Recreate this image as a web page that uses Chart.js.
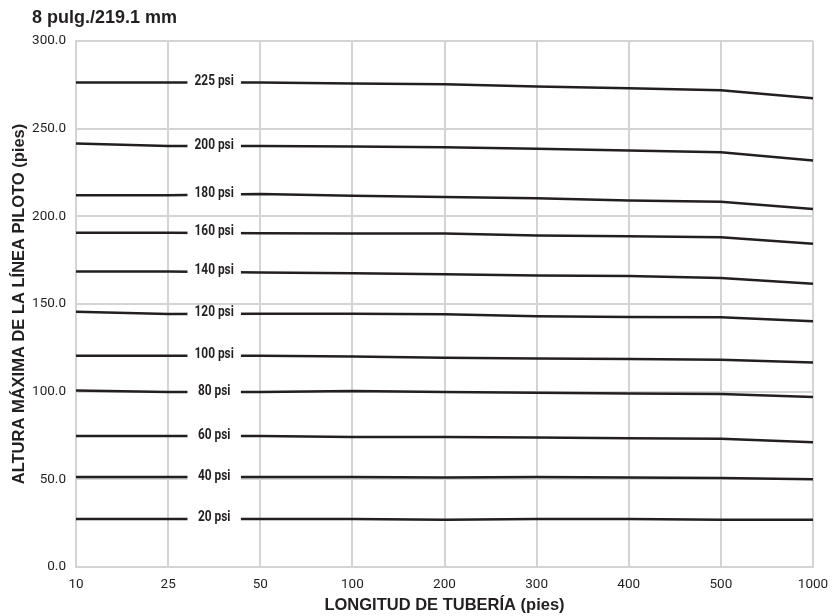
<!DOCTYPE html>
<html lang="es">
<head>
<meta charset="UTF-8">
<title>8 pulg./219.1 mm</title>
<script src="https://cdn.jsdelivr.net/npm/chart.js"></script>
<style>
  body { margin:0; background:#fff; }
</style>
</head>
<body>
<canvas id="chart" width="833" height="616"></canvas>
<script>
// longitud de tubería (pies) - categorías del eje x
const lengths = ['10', '25', '50', '100', '200', '300', '400', '500', '1000'];
const pressures = [225, 200, 180, 160, 140, 120, 100, 80, 60, 40, 20];

// altura máxima de la línea piloto (pies) por presión
const h225 = [276.3, 276.3, 276.3, 275.7, 275.4, 274.0, 273.1, 271.9, 267.4];
const h200 = [241.5, 240.1, 240.1, 239.9, 239.4, 238.5, 237.6, 236.5, 231.8];
const h180 = [212.0, 212.0, 212.8, 211.8, 211.0, 210.3, 209.1, 208.3, 204.2];
const h160 = [190.7, 190.7, 190.3, 190.2, 190.2, 189.0, 188.6, 188.1, 184.3];
const h140 = [168.6, 168.6, 168.0, 167.6, 166.9, 166.3, 165.9, 164.8, 161.5];
const h120 = [145.6, 144.3, 144.5, 144.5, 144.1, 143.0, 142.6, 142.4, 140.2];
const h100 = [120.5, 120.5, 120.5, 120.1, 119.3, 118.9, 118.6, 118.2, 116.7];
const h80  = [100.6, 99.8, 99.8, 100.4, 99.8, 99.4, 99.0, 98.7, 97.0];
const h60  = [74.7, 74.7, 74.7, 74.2, 74.2, 73.8, 73.4, 73.2, 71.2];
const h40  = [51.3, 51.3, 51.3, 51.3, 51.1, 51.3, 51.1, 50.7, 50.0];
const h20  = [27.4, 27.4, 27.4, 27.4, 27.0, 27.4, 27.4, 27.0, 27.0];

const series = [h225, h200, h180, h160, h140, h120, h100, h80, h60, h40, h20];

const INK = '#231f20';
const GRID = '#d3d4d6';
const tickFont = "Roboto, 'Open Sans', sans-serif";
const bold = "'Liberation Sans', Arial, sans-serif";

// etiqueta "xxx psi" sobre un hueco blanco entre 25 y 50
const psiLabels = {
  id: 'psiLabels',
  afterDatasetsDraw(chart) {
    const ctx = chart.ctx;
    chart.data.datasets.forEach((ds, i) => {
      const pts = chart.getDatasetMeta(i).data;
      const a = pts[1], b = pts[2];
      const x = (a.x + b.x) / 2, y = (a.y + b.y) / 2;
      const half = (b.x - a.x) * 0.29;
      ctx.save();
      ctx.fillStyle = '#fff';
      ctx.fillRect(x - half, y - 3, half * 2, 6);
      // texto algo condensado
      ctx.translate(x, y - 1);
      ctx.scale(0.85, 1);
      ctx.font = 'bold 14px ' + tickFont;
      ctx.textAlign = 'center';
      ctx.textBaseline = 'middle';
      ctx.fillStyle = INK;
      ctx.fillText(ds.label, 0, 0);
      ctx.restore();
    });
  }
};

const topTitle = {
  id: 'topTitle',
  afterDraw(chart) {
    const ctx = chart.ctx;
    ctx.save();
    ctx.font = 'bold 18px ' + bold;
    ctx.fillStyle = INK;
    ctx.textAlign = 'left';
    ctx.textBaseline = 'middle';
    ctx.fillText('8 pulg./219.1 mm', 32, 18);
    ctx.restore();
  }
};

new Chart(document.getElementById('chart'), {
  type: 'line',
  data: {
    labels: lengths,
    datasets: series.map((d, i) => ({
      label: pressures[i] + ' psi',
      data: d,
      borderColor: INK,
      borderWidth: 2.5,
      pointRadius: 0,
      tension: 0,
      fill: false
    }))
  },
  options: {
    responsive: false,
    animation: false,
    layout: { padding: { top: 41, right: 20, left: 0, bottom: 0 } },
    plugins: { legend: { display: false }, tooltip: { enabled: false } },
    scales: {
      x: {
        type: 'category',
        offset: false,
        grid: { color: GRID, lineWidth: 2, drawTicks: false, offset: false },
        border: { color: GRID, width: 2 },
        ticks: { color: INK, font: { family: tickFont, size: 13.5 }, padding: 10, maxRotation: 0 },
        title: {
          display: true,
          text: 'LONGITUD DE TUBERÍA (pies)',
          color: INK,
          font: { family: bold, size: 16.5, weight: 'bold' },
          padding: { top: 0, bottom: 1 }
        },
        afterFit(s) { s.height = 49; s.paddingLeft = 0; s.paddingRight = 0; }
      },
      y: {
        min: 0,
        max: 300,
        grid: { color: GRID, lineWidth: 2, drawTicks: false },
        border: { color: GRID, width: 2 },
        ticks: {
          stepSize: 50,
          color: INK,
          font: { family: tickFont, size: 13.5 },
          padding: 10,
          callback: v => v.toFixed(1)
        },
        title: {
          display: true,
          text: 'ALTURA MÁXIMA DE LA LÍNEA PILOTO (pies)',
          color: INK,
          font: { family: bold, size: 16.5, weight: 'bold' },
          padding: { top: 10, bottom: 0 }
        },
        afterFit(s) { s.width = 76; s.paddingTop = 0; s.paddingBottom = 0; }
      }
    }
  },
  plugins: [psiLabels, topTitle]
});
</script>
</body>
</html>
